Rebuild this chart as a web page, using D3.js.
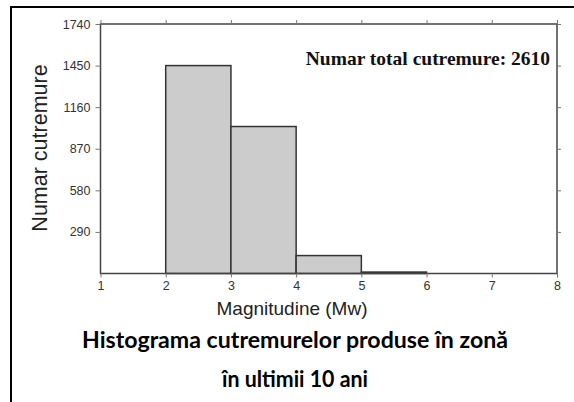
<!DOCTYPE html>
<html><head><meta charset="utf-8">
<script src="https://cdn.jsdelivr.net/npm/d3@7"></script>
<style>html,body{margin:0;background:#fff;overflow:hidden}svg{display:block}</style>
</head><body><svg id="c" width="574" height="402"></svg>
<script>
const binStarts = [1, 2, 3, 4, 5, 6, 7];
const binCounts = [0, 1450, 1025, 125, 10, 0, 0];
const yTicks = [290, 580, 870, 1160, 1450, 1740];
const xTicks = [1, 2, 3, 4, 5, 6, 7, 8];
const yLabel = "Numar cutremure";
const xLabel = "Magnitudine (Mw)";
const totalLabel = "Numar total cutremure: 2610";
const titleLines = ["Histograma cutremurelor produse în zonă", "în ultimii 10 ani"];

const svg = d3.select("#c");
// outer frame (left and top edges visible)
svg.append("path").attr("d", "M11,402 V7 H574")
  .attr("fill", "none").attr("stroke", "#000").attr("stroke-width", 2);

const x = d3.scaleLinear().domain([1, 8]).range([100.5, 557]);
const y = d3.scaleLinear().domain([0, 1740]).range([273.5, 24]);
const axisCol = "#444";

const g = svg.append("g");
g.selectAll("rect.bar").data(binStarts.map((s, i) => ({s, c: binCounts[i]})).filter(d => d.c > 0))
  .enter().append("rect").attr("class", "bar")
  .attr("x", d => x(d.s)).attr("width", d => x(d.s + 1) - x(d.s))
  .attr("y", d => y(d.c)).attr("height", d => y(0) - y(d.c))
  .attr("fill", "#cccccc").attr("stroke", "#333").attr("stroke-width", 1.5);

g.append("rect").attr("x", x(1)).attr("y", y(1740)).attr("width", x(8) - x(1)).attr("height", y(0) - y(1740))
  .attr("fill", "none").attr("stroke", axisCol).attr("stroke-width", 1.5);

function styleAxis(sel, showText) {
  sel.select(".domain").remove();
  sel.selectAll(".tick line").attr("stroke", "#777").attr("stroke-width", 1);
  sel.selectAll(".tick text").attr("fill", "#333").attr("font-family", "Liberation Sans, Arial, sans-serif")
    .attr("font-size", 12.5).style("display", showText ? null : "none");
}
svg.append("g").attr("transform", `translate(0,${y(0)})`)
  .call(d3.axisBottom(x).tickValues(xTicks).tickSize(4).tickPadding(4).tickFormat(d3.format("d")))
  .call(s => styleAxis(s, true));
svg.append("g").attr("transform", `translate(0,${y(1740)})`)
  .call(d3.axisTop(x).tickValues(xTicks).tickSize(4))
  .call(s => styleAxis(s, false));
svg.append("g").attr("transform", `translate(${x(1)},0)`)
  .call(d3.axisLeft(y).tickValues(yTicks).tickSize(5).tickPadding(5).tickFormat(d3.format("d")))
  .call(s => styleAxis(s, true));
svg.append("g").attr("transform", `translate(${x(8)},0)`)
  .call(d3.axisRight(y).tickValues(yTicks).tickSize(4))
  .call(s => styleAxis(s, false));

svg.append("text").attr("transform", "translate(47,148) rotate(-90)").attr("text-anchor", "middle")
  .attr("font-family", "Liberation Sans, Arial, sans-serif").attr("font-size", 21.5).attr("fill", "#222")
  .text(yLabel);
svg.append("text").attr("x", 292).attr("y", 315).attr("text-anchor", "middle")
  .attr("font-family", "Liberation Sans, Arial, sans-serif").attr("font-size", 19).attr("fill", "#222")
  .text(xLabel);
svg.append("text").attr("x", 550).attr("y", 65).attr("text-anchor", "end")
  .attr("font-family", "Liberation Serif, Times New Roman, serif").attr("font-weight", "bold")
  .attr("font-size", 19.5).attr("fill", "#111").text(totalLabel);

const titleLen = [426, 146];
titleLines.forEach((t, i) => {
  svg.append("text").attr("x", 295).attr("y", 348 + i * 39).attr("text-anchor", "middle")
    .attr("font-family", "Lato, 'Open Sans', sans-serif").attr("font-weight", "bold")
    .attr("font-size", 22).attr("fill", "#000")
    .attr("textLength", titleLen[i]).attr("lengthAdjust", "spacingAndGlyphs").text(t);
});
</script></body></html>
